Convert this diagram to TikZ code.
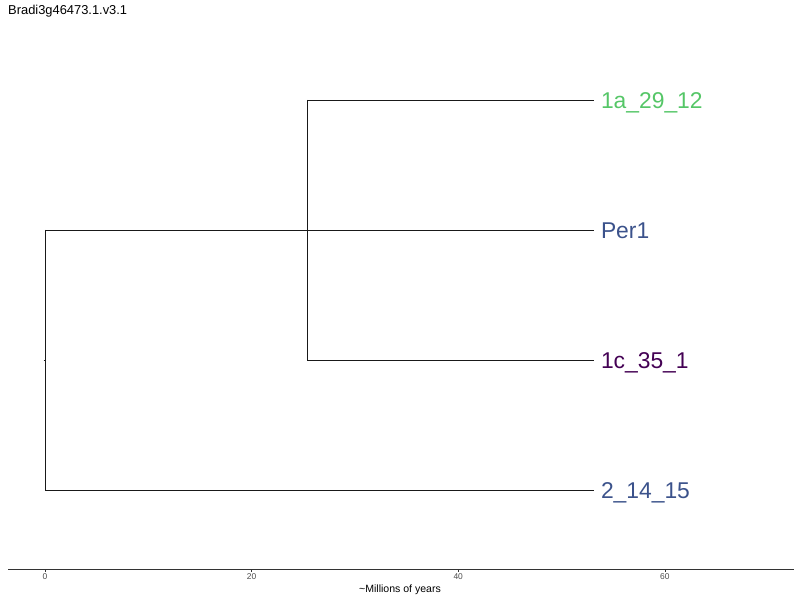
\documentclass[tikz,border=0pt]{standalone}
\usepackage{fontspec}
\setmainfont{Liberation Sans}
\usetikzlibrary{arrows.meta}

\begin{document}
\begin{tikzpicture}[x=0.3mm, y=-0.3mm, line cap=butt, line join=miter]
    \definecolor{tipgreen}{HTML}{55C667}
    \definecolor{tipblue}{HTML}{3B528B}
    \definecolor{tippurple}{HTML}{440154}
    \tikzset{
      branch/.style={draw=black!90, line width=0.55pt},
      tiplabel/.style={anchor=west, inner sep=0pt, outer xsep=2.1mm,
        text height=14pt, text depth=0pt, font=\fontsize{19.5}{20}\selectfont},
      ticklabel/.style={anchor=base, inner sep=0pt, text=black!70,
        font=\fontsize{7.2}{8}\selectfont},
    }

    % --- free parameters
    \pgfmathsetmacro{\xmy}{10.33}  % px per million years
    \pgfmathsetmacro{\xroot}{45}   % x of the root, px
    \pgfmathsetmacro{\xtip}{594}   % x where the tips end, px
    \pgfmathsetmacro{\yaxis}{569}  % y of the time axis, px

    \useasboundingbox (0,0) rectangle (800,600);

    % --- title
    \node[anchor=base west, inner sep=0pt, font=\fontsize{11}{13}\selectfont]
      (title) at (8,15) {Bradi3g46473.1.v3.1};

    % --- the splits
    \coordinate (root) at (\xroot,360);
    \coordinate (stub) at (\xroot-1.5,360);
    \coordinate (rootTop) at (\xroot,230);
    \coordinate (rootBot) at (\xroot,490);
    \coordinate (splitTop) at (307,100);
    \coordinate (splitBot) at (307,360);

    % --- the tips
    \node[tiplabel, text=tipgreen] (t1a) at (\xtip,100) {1a\_29\_12};
    \node[tiplabel, text=tipblue] (tPer) at (\xtip,230) {Per1};
    \node[tiplabel, text=tippurple] (t1c) at (\xtip,360) {1c\_35\_1};
    \node[tiplabel, text=tipblue] (t2) at (\xtip,490) {2\_14\_15};

    % --- the branches
    \draw[branch] (stub) -- (root);
    \draw[branch] (rootTop) -- (rootBot);
    \draw[branch] (rootTop) -- (tPer.west);
    \draw[branch] (rootBot) -- (t2.west);
    \draw[branch] (splitTop) -- (splitBot);
    \draw[branch] (splitTop) -- (t1a.west);
    \draw[branch] (splitBot) -- (t1c.west);

    % --- the time axis, with its ticks
    \coordinate (axL) at (8,\yaxis);
    \coordinate (axR) at (794,\yaxis);
    \draw[draw=black!80, line width=0.55pt] (axL) -- (axR);
    \foreach \t in {0, 20, 40, 60} {
      \draw[draw=black!80, line width=0.5pt] ({\xroot+\t*\xmy}, \yaxis) -- ++(0,3);
      \node[ticklabel] at ({\xroot+\t*\xmy}, 579) {\t};
    }
    \node[anchor=base, inner sep=0pt, font=\fontsize{9}{11}\selectfont]
      (axlabel) at (400,592) {\textasciitilde Millions of years};
  \end{tikzpicture}
\end{document}
